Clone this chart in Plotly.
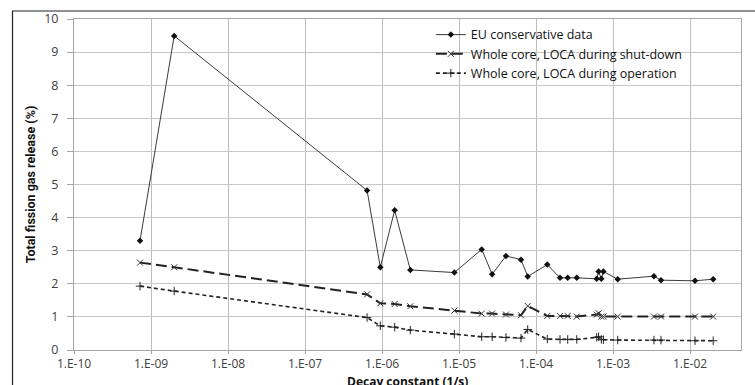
import plotly.graph_objects as go

# Decay constant (1/s) shared by all series
decay = [7.2e-10, 2.0e-9, 6.4e-7, 9.5e-7, 1.46e-6, 2.33e-6, 8.7e-6, 1.97e-5, 2.69e-5,
         4.07e-5, 6.38e-5, 7.8e-5, 1.40e-4, 2.05e-4, 2.58e-4, 3.38e-4, 6.14e-4, 6.5e-4,
         7.05e-4, 7.5e-4, 1.15e-3, 3.4e-3, 4.2e-3, 1.16e-2, 2.0e-2]

eu_data = [3.30, 9.49, 4.82, 2.50, 4.22, 2.42, 2.34, 3.04, 2.29, 2.84, 2.73, 2.22, 2.58,
           2.18, 2.18, 2.18, 2.15, 2.37, 2.15, 2.37, 2.14, 2.23, 2.11, 2.09, 2.14]

shutdown = [2.64, 2.50, 1.68, 1.41, 1.39, 1.32, 1.19, 1.10, 1.10, 1.07, 1.05, 1.33, 1.03,
            1.03, 1.03, 1.01, 1.07, 1.11, 1.01, 1.01, 1.01, 1.01, 1.01, 1.01, 1.01]

operation = [1.93, 1.78, 0.98, 0.73, 0.69, 0.60, 0.48, 0.40, 0.40, 0.38, 0.36, 0.62, 0.33,
             0.32, 0.32, 0.32, 0.38, 0.40, 0.32, 0.31, 0.30, 0.30, 0.30, 0.28, 0.28]

x_tickvals = [1e-10, 1e-9, 1e-8, 1e-7, 1e-6, 1e-5, 1e-4, 1e-3, 1e-2]
x_ticktext = ["1.E-10", "1.E-09", "1.E-08", "1.E-07", "1.E-06", "1.E-05", "1.E-04", "1.E-03", "1.E-02"]
y_tickvals = list(range(0, 11))

names = ["EU conservative data", "Whole core, LOCA during shut-down", "Whole core, LOCA during operation"]
x_title = "Decay constant (1/s)"
y_title = "Total fission gas release (%)"

fig = go.Figure()
fig.add_trace(go.Scatter(
    x=decay, y=eu_data, name=names[0], mode="lines+markers",
    line=dict(color="#3a3a3a", width=1),
    marker=dict(symbol="diamond", size=5, color="#111111")))
fig.add_trace(go.Scatter(
    x=decay, y=shutdown, name=names[1], mode="lines+markers",
    line=dict(color="#222222", width=2, dash="11px,5px"),
    marker=dict(symbol="x-thin", size=6, line=dict(color="#333333", width=1))))
fig.add_trace(go.Scatter(
    x=decay, y=operation, name=names[2], mode="lines+markers",
    line=dict(color="#222222", width=1.6, dash="4px,3px"),
    marker=dict(symbol="cross-thin", size=6, line=dict(color="#222222", width=1))))

x_tick_font = dict(family="Open Sans, sans-serif", size=12, color="#404040")
y_tick_font = dict(family="Open Sans, sans-serif", size=12.5, color="#404040")

fig.update_layout(
    width=755, height=385,
    margin=dict(l=74, r=14, t=19, b=35, autoexpand=False),
    paper_bgcolor="white", plot_bgcolor="white",
    showlegend=True,
    legend=dict(x=0.535, y=0.997, xanchor="left", yanchor="top",
                font=dict(family="Open Sans, sans-serif", size=12.5, color="#111111"),
                bgcolor="rgba(255,255,255,0)", borderwidth=0,
                itemwidth=30, tracegroupgap=0),
    xaxis=dict(type="log", range=[-10, -1.338], tickvals=x_tickvals, ticktext=x_ticktext,
               showgrid=True, gridcolor="#bdbdbd", gridwidth=1,
               showline=True, linecolor="#a6a6a6", mirror=True,
               ticks="outside", ticklen=3, tickcolor="#a6a6a6", ticklabelstandoff=0,
               tickfont=x_tick_font, zeroline=False, automargin=False),
    yaxis=dict(range=[0, 10], tickvals=y_tickvals, showgrid=True, gridcolor="#c8c8c8",
               gridwidth=1, showline=True, linecolor="#a6a6a6", mirror=True,
               ticks="outside", ticklen=6, tickcolor="#a6a6a6", ticklabelstandoff=6,
               tickfont=y_tick_font, zeroline=False, automargin=False,
               title=dict(text="<b>" + y_title + "</b>",
                          font=dict(family="Liberation Sans Narrow, Roboto, sans-serif", size=12.5, color="#111111"),
                          standoff=5)),
    annotations=[dict(text="<b>" + x_title + "</b>", xref="paper", yref="paper",
                      x=0.5, y=-0.095, xanchor="center", yanchor="middle", showarrow=False,
                      borderpad=0,
                      font=dict(family="Open Sans, sans-serif", size=12, color="#111111"))],
    shapes=[dict(type="rect", xref="paper", yref="paper", x0=-0.0922, x1=1.1, y0=-0.3, y1=1.0242,
                 line=dict(color="#222222", width=1.2), layer="below")],
)

fig.write_html("out.html")
